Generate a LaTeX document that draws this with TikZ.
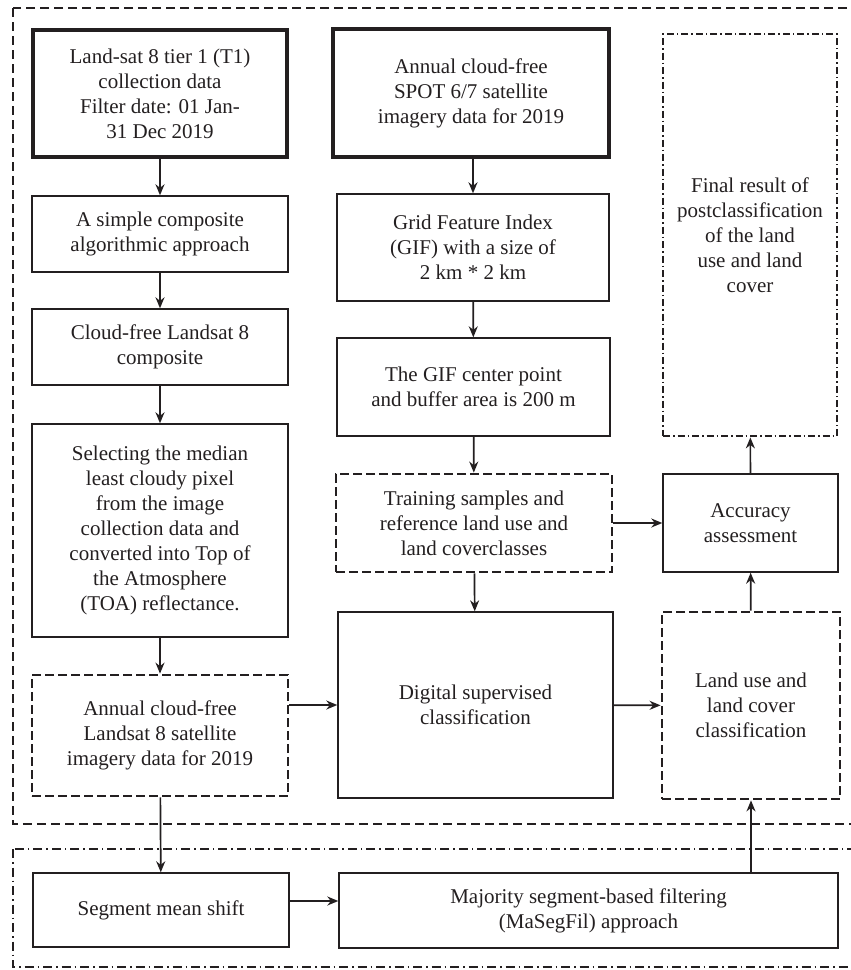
\documentclass[tikz,border=0pt]{standalone}
\usepackage{fontspec}
\setmainfont{Liberation Serif}
\usetikzlibrary{arrows.meta}
\definecolor{ink}{HTML}{231F20}

\begin{document}
\begin{tikzpicture}[x=1pt, y=-1pt, ink, >={Stealth[length=11pt,width=9pt]},
	every node/.style={align=center, inner sep=0pt, font=\fontsize{21}{25}\selectfont},
	plainbox/.style={draw, line width=1.4pt},
	heavybox/.style={draw, line width=3.2pt},
	dashbox/.style={draw, line width=2.8pt, dash pattern=on 9pt off 4pt},
	dotdashbox/.style={draw, line width=2.8pt, dash pattern=on 7pt off 3pt on 1.5pt off 3pt},
	arr/.style={->, line width=1.7pt}]
	\useasboundingbox (0,0) rectangle (851,970);
	
	%frames
	\draw[line width=1.1pt, dash pattern=on 9pt off 5pt] (13,8) rectangle (853,824);
	\draw[line width=1.1pt, dash pattern=on 9pt off 4pt on 1.5pt off 4pt] (13,849) rectangle (853,967);
	
	%left column
	\node (lsat) at (160,93.5) [heavybox, minimum width=254, minimum height=127]{Land-sat 8 tier 1 (T1)\\collection data\\Filter date: 01 Jan-\\31 Dec 2019};
	\node (simple) at (160,234) [plainbox, minimum width=256, minimum height=76]{A simple composite\\algorithmic approach};
	\node (cfree) at (160,347) [plainbox, minimum width=256, minimum height=76]{Cloud-free Landsat 8\\composite};
	\node (select) at (160,530.5) [plainbox, minimum width=256, minimum height=213]{Selecting the median\\least cloudy pixel\\from the image\\collection data and\\converted into Top of\\the Atmosphere\\(TOA) reflectance.};
	\node (annual) at (160,735.5) [dashbox, minimum width=256, minimum height=121]{Annual cloud-free\\Landsat 8 satellite\\imagery data for 2019};
	
	%middle column
	\node (spot) at (471,93) [heavybox, minimum width=276, minimum height=128]{Annual cloud-free\\SPOT 6/7 satellite\\imagery data for 2019};
	\node (gfi) at (473,247.5) [plainbox, minimum width=272, minimum height=107]{Grid Feature Index\\(GIF) with a size of\\2 km * 2 km};
	\node (gifc) at (473.5,387) [plainbox, minimum width=273, minimum height=98]{The GIF center point\\and buffer area is 200 m};
	\node (train) at (474,523) [dashbox, minimum width=276, minimum height=98]{Training samples and\\reference land use and\\land coverclasses};
	\node (digital) at (475.5,705) [plainbox, minimum width=275, minimum height=186]{Digital supervised\\classification};
	
	%right column
	\node (final) at (750,235) [dotdashbox, minimum width=174, minimum height=402]{Final result of\\postclassification\\of the land\\use and land\\cover};
	\node (accur) at (750.5,523) [plainbox, minimum width=175, minimum height=98]{Accuracy\\assessment};
	\node (landuse) at (751,705.5) [dashbox, minimum width=178, minimum height=187]{Land use and\\land cover\\classification};
	
	%bottom row
	\node (segment) at (161,910) [plainbox, minimum width=256, minimum height=74]{Segment mean shift};
	\node (major) at (588.5,910.5) [plainbox, minimum width=499, minimum height=75]{Majority segment-based filtering\\(MaSegFil) approach};
	
	%arrows
	\draw[arr] (lsat) -- (simple);
	\draw[arr] (simple) -- (cfree);
	\draw[arr] (cfree) -- (select);
	\draw[arr] (select) -- (annual);
	\draw[arr] (annual) -- (segment);
	\draw[arr] (annual.east |- digital.west) -- (digital.west);
	\draw[arr] (spot.south -| gfi.north) -- (gfi.north);
	\draw[arr] (gfi) -- (gifc);
	\draw[arr] (gifc) -- (train);
	\draw[arr] (train) -- (digital);
	\draw[arr] (train) -- (accur);
	\draw[arr] (digital) -- (landuse);
	\draw[arr] (landuse) -- (accur);
	\draw[arr] (accur) -- (final);
	\draw[arr] ([yshift=9pt]segment.east) -- ([yshift=9pt]segment.east -| major.west);
	\draw[arr] (major.north -| landuse.south) -- (landuse.south);
\end{tikzpicture}
\end{document}
